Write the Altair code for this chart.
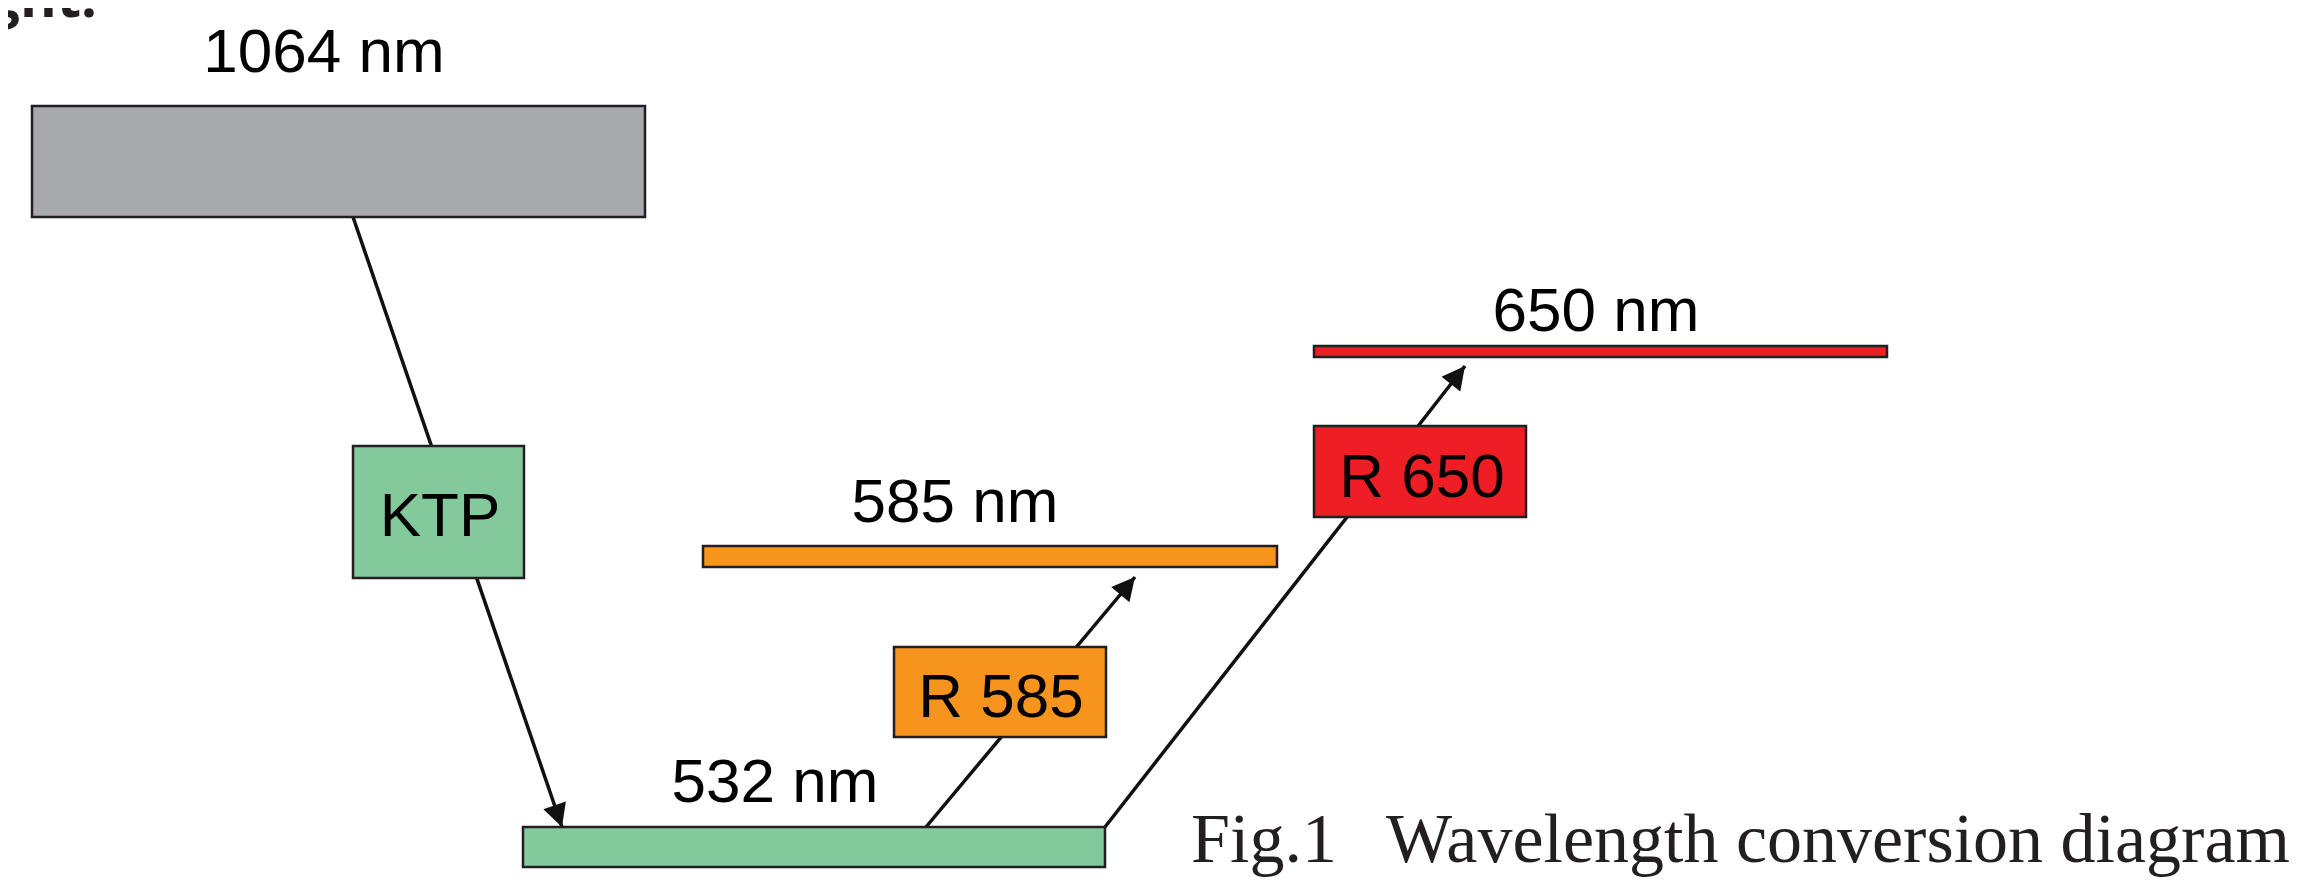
import altair as alt
import pandas as pd

# ---- diagram data (coordinates in the reference figure's units) ----
box_name = ["1064 nm", "KTP", "532 nm", "585 nm", "R 585", "650 nm", "R 650"]
box_kind = ["ir", "green", "green", "orange", "orange", "red", "red"]
box_x0 = [32, 353, 523, 703, 894, 1314, 1314]
box_x1 = [645, 524, 1105, 1277, 1106, 1887, 1526]
box_y0 = [106, 446, 827, 546, 647, 346, 426]
box_y1 = [217, 578, 867, 567, 737, 357, 517]

kinds = ["ir", "green", "orange", "red"]
kind_colors = ["#A7A9AC", "#82CA9C", "#F7941D", "#ED1F24"]

label_text = ["1064 nm", "KTP", "532 nm", "585 nm", "R 585", "650 nm", "R 650"]
label_x = [324, 440, 775, 955, 1001, 1596, 1422]
label_y = [72, 536, 802, 522, 717, 331, 497]

path_x1 = [353, 926, 1105]
path_y1 = [217, 827, 827]
path_x2 = [562, 1135, 1465]
path_y2 = [827, 577, 366]

caption_text = ["Fig.1\u2002\u2009Wavelength conversion diagram"]
caption_x = [1191]
caption_y = [862]

cut_text = ["ght."]
cut_x = [97]
cut_y = [17]

# ---- chart ----
W, H = 2282, 869
xs = alt.Scale(domain=[8, 8 + W], nice=False, zero=False)
ys = alt.Scale(domain=[8, 8 + H], nice=False, zero=False, reverse=True)

boxes = pd.DataFrame(dict(name=box_name, kind=box_kind, x0=box_x0, x1=box_x1,
                          y0=box_y0, y1=box_y1))
labels = pd.DataFrame(dict(text=label_text, x=label_x, y=label_y))
paths = pd.DataFrame(dict(x1=path_x1, y1=path_y1, x2=path_x2, y2=path_y2))
caption = pd.DataFrame(dict(text=caption_text, x=caption_x, y=caption_y))
cut = pd.DataFrame(dict(text=cut_text, x=cut_x, y=cut_y))

rules = alt.Chart(paths).mark_rule(strokeWidth=3.5, color="#111111", strokeCap="butt").encode(
    x=alt.X("x1:Q", scale=xs, axis=None),
    y=alt.Y("y1:Q", scale=ys, axis=None),
    x2="x2:Q",
    y2="y2:Q",
)

rects = alt.Chart(boxes).mark_rect(stroke="#231F20", strokeWidth=2.5, opacity=1).encode(
    x=alt.X("x0:Q", scale=xs, axis=None),
    x2="x1:Q",
    y=alt.Y("y0:Q", scale=ys, axis=None),
    y2="y1:Q",
    color=alt.Color("kind:N", scale=alt.Scale(domain=kinds, range=kind_colors), legend=None),
)

arrows = alt.Chart(paths).transform_calculate(
    angle="(atan2(datum.x2 - datum.x1, -(datum.y2 - datum.y1)) * 180 / PI + 360) % 360"
).mark_point(
    shape="M0,0 L0.52,1 L-0.52,1 Z", size=2100, filled=True, color="#111111",
    opacity=1, strokeWidth=0
).encode(
    x=alt.X("x2:Q", scale=xs, axis=None),
    y=alt.Y("y2:Q", scale=ys, axis=None),
    angle=alt.Angle("angle:Q", scale=None),
)

label_layer = alt.Chart(labels).mark_text(
    font="Liberation Sans", fontSize=62, align="center", baseline="alphabetic", color="#000000"
).encode(
    x=alt.X("x:Q", scale=xs, axis=None),
    y=alt.Y("y:Q", scale=ys, axis=None),
    text="text:N",
)

caption_layer = alt.Chart(caption).mark_text(
    font="Liberation Serif", fontSize=70, align="left", baseline="alphabetic", color="#231F20"
).encode(
    x=alt.X("x:Q", scale=xs, axis=None),
    y=alt.Y("y:Q", scale=ys, axis=None),
    text="text:N",
)

cut_layer = alt.Chart(cut).mark_text(
    font="Open Sans", fontSize=56, fontWeight="bold", align="right", baseline="alphabetic",
    color="#231F20"
).encode(
    x=alt.X("x:Q", scale=xs, axis=None),
    y=alt.Y("y:Q", scale=ys, axis=None),
    text="text:N",
)

chart = alt.layer(rules, rects, arrows, label_layer, caption_layer, cut_layer).properties(
    width=W, height=H, padding=0, background="white",
    autosize=alt.AutoSizeParams(type="none"),
).configure_view(stroke=None)

chart.save("out.html", embed_options={"renderer": "svg", "actions": False})
